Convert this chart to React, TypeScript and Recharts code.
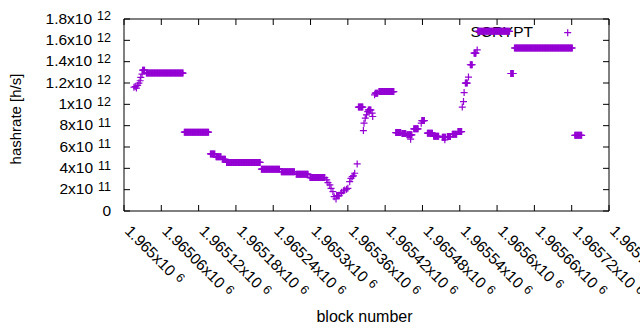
import { ScatterChart, Scatter, XAxis, YAxis, ReferenceArea, Legend } from "recharts";

const PURPLE = "#9400d3";
const FONT = "'Liberation Sans', Arial, sans-serif";

// plot box (gnuplot-like frame)
const PLOT_LEFT = 124;
const PLOT_RIGHT = 609;
const PLOT_TOP = 19;
const PLOT_BOTTOM = 211;

const xTicks = [
  1965000, 1965060, 1965120, 1965180, 1965240, 1965300, 1965360, 1965420,
  1965480, 1965540, 1965600, 1965660, 1965720, 1965780,
];
const yTicks = [0, 2e11, 4e11, 6e11, 8e11, 1e12, 1.2e12, 1.4e12, 1.6e12, 1.8e12];

// isolated readings
const singleBlocks = [
  1965016, 1965018, 1965020, 1965022, 1965024, 1965026, 1965027, 1965029,
  1965326, 1965328, 1965331, 1965333, 1965336, 1965338, 1965341,
  1965349, 1965350, 1965353, 1965355, 1965358, 1965360, 1965363, 1965365,
  1965367, 1965369, 1965371, 1965375,
  1965385, 1965386, 1965388, 1965390, 1965392, 1965399, 1965400, 1965403,
  1965461, 1965478, 1965516,
  1965544, 1965546, 1965547, 1965554, 1965568,
];
const singleRates = [
  1.16e12, 1.167e12, 1.152e12, 1.177e12, 1.199e12, 1.221e12, 1.252e12, 1.284e12,
  2.91e11, 2.66e11, 2.44e11, 2.13e11, 1.81e11, 1.34e11, 1.13e11,
  1.66e11, 1.75e11, 1.9e11, 1.97e11, 2.05e11, 2.13e11, 2.75e11, 3.05e11,
  3.22e11, 3.3e11, 3.54e11, 4.41e11,
  7.54e11, 8.23e11, 8.7e11, 9.01e11, 9.32e11, 9.17e11, 8.86e11, 1.089e12,
  6.73e11, 8.23e11, 6.67e11,
  9.74e11, 1.026e12, 1.11e12, 1.256e12, 1.51e12,
];

// stretches of consecutive blocks with the same reading
const runFirst = [
  1965030, 1965036, 1965097, 1965139, 1965148, 1965158, 1965165, 1965221,
  1965253, 1965277, 1965299, 1965342, 1965377, 1965393, 1965404, 1965410,
  1965437, 1965447, 1965455, 1965466, 1965479, 1965488, 1965498, 1965512,
  1965520, 1965528, 1965537, 1965549, 1965557, 1965563, 1965569, 1965622,
  1965628, 1965725,
];
const runLast = [
  1965033, 1965095, 1965136, 1965146, 1965156, 1965163, 1965219, 1965250,
  1965274, 1965296, 1965323, 1965346, 1965384, 1965397, 1965408, 1965434,
  1965445, 1965453, 1965463, 1965473, 1965483, 1965496, 1965506, 1965517,
  1965525, 1965535, 1965543, 1965552, 1965560, 1965566, 1965620, 1965626,
  1965721, 1965736,
];
const runRates = [
  1.32e12, 1.293e12, 7.39e11, 5.35e11, 5.08e11, 4.85e11, 4.55e11, 3.92e11,
  3.69e11, 3.45e11, 3.13e11, 1.45e11, 9.74e11, 9.48e11, 1.105e12, 1.12e12,
  7.35e11, 7.26e11, 7.14e11, 7.7e11, 8.48e11, 7.3e11, 7.01e11, 6.92e11,
  6.98e11, 7.2e11, 7.45e11, 1.199e12, 1.371e12, 1.48e12, 1.684e12, 1.289e12,
  1.528e12, 7.09e11,
];

const data: { block: number; rate: number }[] = [];
singleBlocks.forEach((b, i) => data.push({ block: b, rate: singleRates[i] }));
runFirst.forEach((first, i) => {
  for (let b = first; b <= runLast[i]; b++) data.push({ block: b, rate: runRates[i] });
});
data.sort((a, b) => a.block - b.block);

const TICK_FONT = 15.5;
const SUP_FONT = 12.5;

function sci(v: number) {
  if (v === 0) return { m: "0", e: "" };
  const e = Math.floor(Math.log10(v) + 1e-9);
  const m = parseFloat((v / Math.pow(10, e)).toFixed(5)).toString();
  return { m, e: String(e) };
}

function xLabel(v: number) {
  return { m: parseFloat((v / 1e6).toFixed(5)).toString(), e: "6" };
}

const Plus = (props: any) => {
  const { cx, cy } = props;
  if (cx == null || cy == null) return null;
  return (
    <path
      d={`M${cx - 3.5},${cy}h7M${cx},${cy - 3.5}v7`}
      stroke={PURPLE}
      strokeWidth={1.2}
      fill="none"
    />
  );
};

const XTick = (props: any) => {
  const { x, payload } = props;
  const { m, e } = xLabel(payload.value);
  const ax = x;
  const ay = 232;
  return (
    <g>
      <line x1={x} x2={x} y1={PLOT_BOTTOM} y2={PLOT_BOTTOM - 6} stroke="#000" />
      <line x1={x} x2={x} y1={PLOT_TOP} y2={PLOT_TOP + 6} stroke="#000" />
      <text
        x={ax}
        y={ay}
        transform={`rotate(45, ${ax}, ${ay})`}
        fontSize={TICK_FONT}
        fontFamily={FONT}
        fill="#000"
      >
        {m}x10
        <tspan dx={5} dy={-3.5} fontSize={SUP_FONT}>
          {e}
        </tspan>
      </text>
    </g>
  );
};

const YTick = (props: any) => {
  const { y, payload } = props;
  const { m, e } = sci(payload.value);
  return (
    <g>
      <line x1={PLOT_LEFT} x2={PLOT_LEFT + 6} y1={y} y2={y} stroke="#000" />
      <line x1={PLOT_RIGHT} x2={PLOT_RIGHT - 6} y1={y} y2={y} stroke="#000" />
      <text x={111} y={y + 4.7} textAnchor="end" fontSize={TICK_FONT} fontFamily={FONT} fill="#000">
        {e ? `${m}x10` : m}
        {e && (
          <tspan dx={5} dy={-3.5} fontSize={SUP_FONT}>
            {e}
          </tspan>
        )}
      </text>
    </g>
  );
};

const KeyBox = () => (
  <svg width={640} height={50}>
    <text x={533} y={37} textAnchor="end" fontSize={15.5} fontFamily={FONT} fill="#000">
      SCRYPT
    </text>
    <path d="M564.2,32.7h7M567.7,29.2v7" stroke={PURPLE} strokeWidth={1.2} fill="none" />
  </svg>
);

export default function App() {
  return (
    <div
      style={{
        position: "absolute",
        left: 0,
        top: 0,
        width: 640,
        height: 330,
        overflow: "hidden",
        background: "#fff",
        zIndex: 0,
      }}
    >
      <ScatterChart
        width={640}
        height={330}
        margin={{ top: PLOT_TOP, right: 640 - PLOT_RIGHT, bottom: 0, left: 0 }}
      >
        <XAxis
          dataKey="block"
          type="number"
          domain={[1965000, 1965780]}
          ticks={xTicks}
          allowDataOverflow
          height={330 - PLOT_BOTTOM}
          axisLine={false}
          tickLine={false}
          tick={<XTick />}
          interval={0}
          label={{
            content: () => (
              <text x={364.5} y={321.5} textAnchor="middle" fontSize={16} fontFamily={FONT} fill="#000">
                block number
              </text>
            ),
          }}
        />
        <YAxis
          dataKey="rate"
          type="number"
          domain={[0, 1.8e12]}
          ticks={yTicks}
          allowDataOverflow
          width={PLOT_LEFT}
          axisLine={false}
          tickLine={false}
          tick={<YTick />}
          interval={0}
          label={{
            content: () => (
              <text
                x={21}
                y={119}
                transform="rotate(-90, 21, 119)"
                textAnchor="middle"
                fontSize={15}
                fontFamily={FONT}
                fill="#000"
              >
                hashrate [h/s]
              </text>
            ),
          }}
        />
        <ReferenceArea
          x1={1965000}
          x2={1965780}
          y1={0}
          y2={1.8e12}
          fill="none"
          stroke="#000"
          strokeWidth={1}
          ifOverflow="visible"
        />
        <Legend
          layout="vertical"
          verticalAlign="middle"
          align="center"
          wrapperStyle={{ left: 0, top: 0, width: 640, height: 50, zIndex: -1 }}
          content={() => <KeyBox />}
        />
        <Scatter
          name="SCRYPT"
          data={data}
          fill={PURPLE}
          shape={<Plus />}
          isAnimationActive={false}
        />
      </ScatterChart>
    </div>
  );
}
